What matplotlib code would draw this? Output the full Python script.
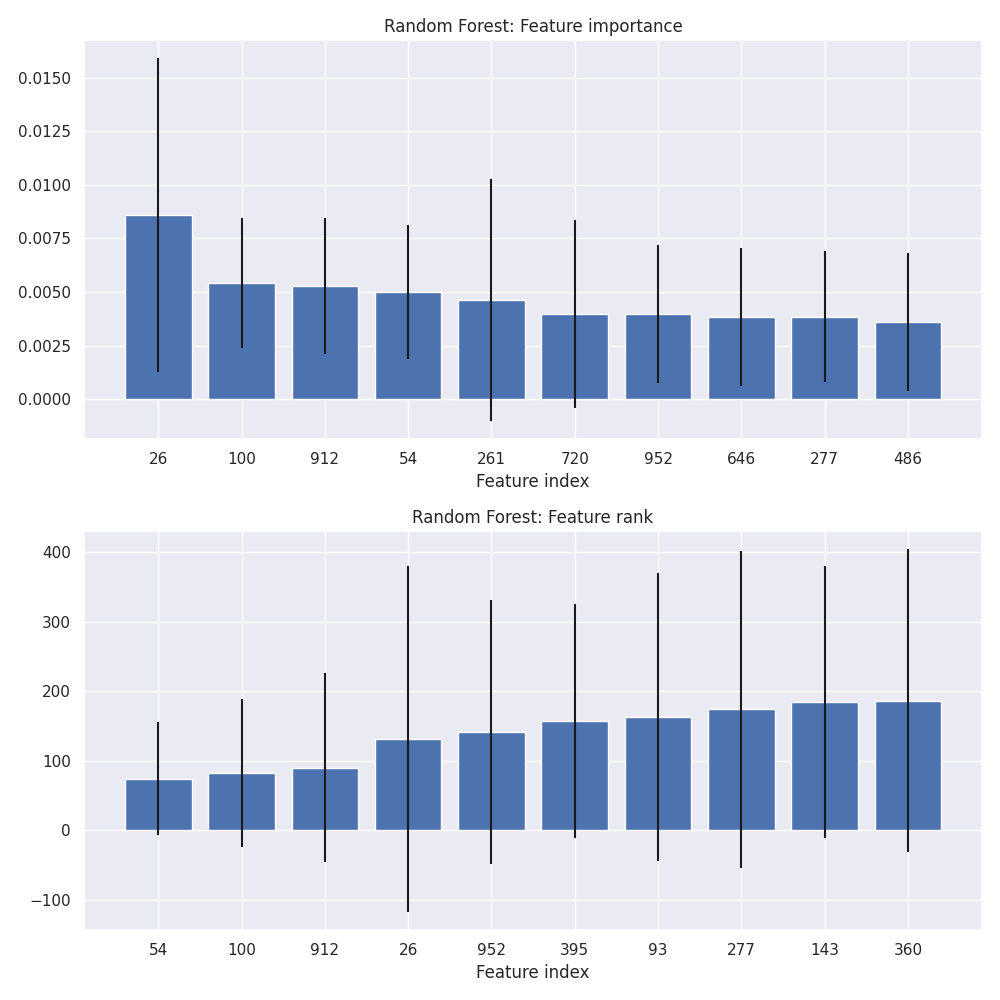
import matplotlib
matplotlib.use("Agg")
import matplotlib.pyplot as plt
import seaborn as sns
import numpy as np

sns.set_theme()

imp_labels = ["26", "100", "912", "54", "261", "720", "952", "646", "277", "486"]
imp_mean = [0.00858, 0.00541, 0.00527, 0.00499, 0.00462, 0.00396, 0.00396, 0.00384, 0.00384, 0.00359]
imp_std = [0.00731, 0.00302, 0.00318, 0.00312, 0.00564, 0.00438, 0.00321, 0.00323, 0.00305, 0.00321]

rank_labels = ["54", "100", "912", "26", "952", "395", "93", "277", "143", "360"]
rank_mean = [74.5, 82.5, 90, 131.5, 141.5, 157.5, 163, 174, 184.5, 186.3]
rank_std = [81, 106.5, 135.4, 248.8, 189.2, 168.4, 206.5, 227.3, 195, 217.2]

fig, axes = plt.subplots(2, 1, figsize=(10, 10), dpi=100)

ax = axes[0]
x = np.arange(len(imp_labels))
ax.bar(x, imp_mean, yerr=imp_std, color="#4C72B0")
ax.set_xticks(x)
ax.set_xticklabels(imp_labels)
ax.set_title("Random Forest: Feature importance")
ax.set_xlabel("Feature index")

ax = axes[1]
x = np.arange(len(rank_labels))
ax.bar(x, rank_mean, yerr=rank_std, color="#4C72B0")
ax.set_xticks(x)
ax.set_xticklabels(rank_labels)
ax.set_title("Random Forest: Feature rank")
ax.set_xlabel("Feature index")

fig.tight_layout()
fig.savefig("out.png", dpi=100)
